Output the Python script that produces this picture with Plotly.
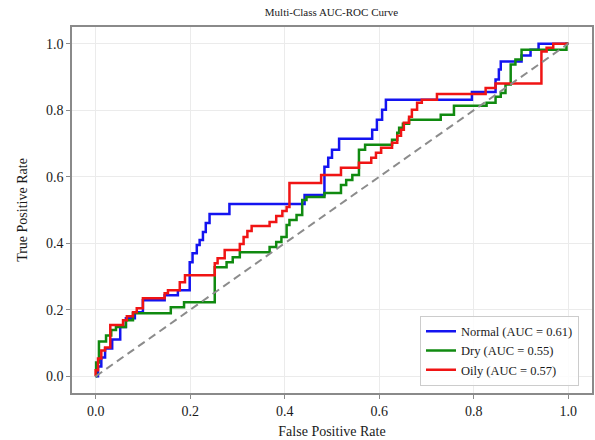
import plotly.graph_objects as go

# ROC step points (top of each vertical rise), drawn with 'hv' steps
normal_fpr = [0, 0.005, 0.012, 0.020, 0.035, 0.052, 0.064, 0.083, 0.100, 0.146, 0.174, 0.199, 0.205, 0.214,
              0.220, 0.227, 0.233, 0.241, 0.283, 0.442, 0.484, 0.492, 0.500, 0.515, 0.585, 0.595, 0.606,
              0.614, 0.796, 0.846, 0.853, 0.857, 0.901, 0.920, 0.937, 1.0]
normal_tpr = [0, 0.030, 0.057, 0.084, 0.111, 0.148, 0.175, 0.193, 0.229, 0.244, 0.259, 0.343, 0.370, 0.395,
              0.410, 0.434, 0.461, 0.488, 0.518, 0.545, 0.630, 0.657, 0.681, 0.714, 0.741, 0.771, 0.801,
              0.831, 0.855, 0.892, 0.922, 0.946, 0.964, 0.982, 1.0, 1.0]

dry_fpr = [0, 0.001, 0.007, 0.022, 0.033, 0.043, 0.064, 0.079, 0.159, 0.187, 0.252, 0.277, 0.290, 0.305,
           0.368, 0.382, 0.393, 0.404, 0.410, 0.425, 0.437, 0.446, 0.484, 0.519, 0.530, 0.543, 0.557,
           0.570, 0.627, 0.638, 0.642, 0.650, 0.663, 0.730, 0.758, 0.827, 0.846, 0.857, 0.867, 0.878,
           0.888, 0.901, 0.996, 1.0]
dry_tpr = [0, 0.042, 0.105, 0.123, 0.139, 0.148, 0.169, 0.190, 0.208, 0.223, 0.328, 0.343, 0.358, 0.373,
           0.389, 0.404, 0.419, 0.455, 0.470, 0.485, 0.530, 0.539, 0.551, 0.575, 0.590, 0.605, 0.681,
           0.696, 0.711, 0.732, 0.747, 0.759, 0.771, 0.786, 0.813, 0.822, 0.840, 0.852, 0.877, 0.937,
           0.952, 0.982, 1.0, 1.0]

oily_fpr = [0, 0, 0.005, 0.012, 0.020, 0.031, 0.058, 0.066, 0.079, 0.087, 0.100, 0.146, 0.153, 0.178,
            0.189, 0.252, 0.258, 0.273, 0.305, 0.313, 0.321, 0.330, 0.368, 0.382, 0.395, 0.404, 0.410,
            0.477, 0.519, 0.557, 0.583, 0.593, 0.604, 0.627, 0.638, 0.646, 0.652, 0.663, 0.669, 0.680,
            0.690, 0.722, 0.825, 0.846, 0.943, 0.954, 0.968, 1.0]
oily_tpr = [0, 0.018, 0.054, 0.078, 0.087, 0.154, 0.169, 0.181, 0.193, 0.205, 0.235, 0.250, 0.259, 0.283,
            0.304, 0.340, 0.355, 0.380, 0.398, 0.419, 0.437, 0.452, 0.464, 0.482, 0.497, 0.509, 0.581,
            0.605, 0.627, 0.642, 0.657, 0.672, 0.687, 0.702, 0.723, 0.741, 0.762, 0.780, 0.801, 0.822,
            0.831, 0.849, 0.867, 0.880, 0.976, 0.988, 1.0, 1.0]

class_names = ["Normal", "Dry", "Oily"]
auc_values = [0.61, 0.55, 0.57]
colors = ["#1414f0", "#108a10", "#f01414"]
tick_vals = [0.0, 0.2, 0.4, 0.6, 0.8, 1.0]

FONT = "Liberation Serif, Times New Roman, serif"

fig = go.Figure()
series = [(normal_fpr, normal_tpr), (dry_fpr, dry_tpr), (oily_fpr, oily_tpr)]
for (fx, ty), name, auc, col in zip(series, class_names, auc_values, colors):
    fig.add_trace(go.Scatter(
        x=fx, y=ty, mode="lines", line=dict(color=col, width=2.5, shape="hv"),
        name=f"{name} (AUC = {auc:.2f})"))

fig.add_trace(go.Scatter(x=[0, 1], y=[0, 1], mode="lines", showlegend=False,
                         line=dict(color="#8c8c8c", width=2, dash="8px,5px")))

axis_common = dict(
    range=[-0.05, 1.05], tickvals=tick_vals, tickformat=".1f",
    showgrid=True, gridcolor="#ebebeb", gridwidth=1, zeroline=False,
    showline=True, linecolor="#8a8a8a", linewidth=1.5, mirror=True,
    ticks="outside", ticklen=4, tickcolor="#8a8a8a", tickwidth=1,
    tickfont=dict(family=FONT, size=14, color="#1a1a1a"),
)

fig.update_layout(
    width=595, height=440,
    margin=dict(l=72, r=1, t=27, b=47),
    paper_bgcolor="white", plot_bgcolor="white",
    font=dict(family=FONT, color="#1a1a1a"),
    title=dict(text="Multi-Class AUC-ROC Curve", x=0.557, xanchor="center",
               y=1 - 12 / 440, yanchor="middle", yref="container",
               font=dict(family=FONT, size=11, color="#1a1a1a")),
    xaxis=dict(axis_common, title=dict(text="False Positive Rate", standoff=9,
                                       font=dict(family=FONT, size=14, color="#1a1a1a"))),
    yaxis=dict(axis_common, title=dict(text="True Positive Rate", standoff=15,
                                       font=dict(family=FONT, size=14, color="#1a1a1a"))),
    legend=dict(x=0.975, xanchor="right", y=0.02, yanchor="bottom",
                bgcolor="rgba(255,255,255,0.85)", bordercolor="#cccccc", borderwidth=1,
                font=dict(family=FONT, size=12.5, color="#1a1a1a"),
                itemwidth=30, tracegroupgap=0),
    showlegend=True,
)

fig.write_html("out.html")
